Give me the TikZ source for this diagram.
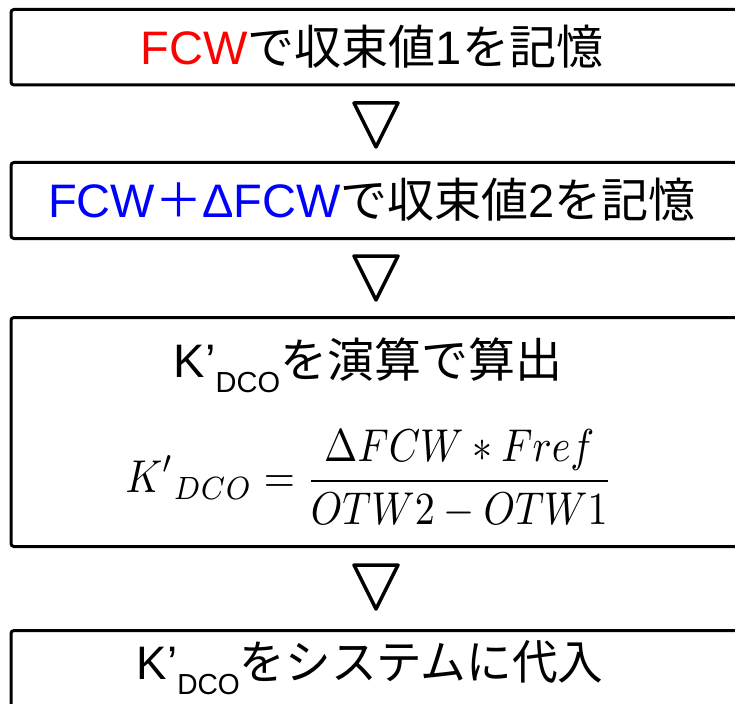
\documentclass[tikz,border=0pt]{standalone}
\usepackage{fontspec}
\usepackage{graphicx}
\setmainfont{Liberation Sans}
\newfontfamily\jp{Noto Sans CJK JP}
\newcommand\J[1]{{\jp #1}}
\newcommand\Kdco{K’\raisebox{-15pt}{\fontsize{29}{30}\selectfont DCO}}
\begin{document}
\begin{tikzpicture}[x=1pt,y=-1pt,
  box/.style={draw, line width=3pt, rounded corners=3pt, minimum width=727pt, inner sep=0pt},
  tri/.style={draw, line width=3.5pt, line join=round},
  lbl/.style={font=\fontsize{47}{56}\selectfont, inner sep=0pt}]
\useasboundingbox (0,0) rectangle (735,703);
\clip (0,0) rectangle (735,703);
% boxes
\node[box, minimum height=75.5pt] (b1) at (374.5,47.25) {};
\node[box, minimum height=76pt] (b2) at (374.5,200.5) {};
\node[box, minimum height=229pt] (b3) at (374.5,432) {};
\node[box, minimum height=85pt] (b4) at (374.5,673) {};
% texts
\node[lbl] (l1) at (372,47) {\textcolor{red}{FCW}\J{で収束値}1\J{を記憶}};
\node[lbl] (l2) at (372,200) {\textcolor{blue}{FCW\J{＋}ΔFCW}\J{で収束値}2\J{を記憶}};
\node[lbl] (l3) at (368,365) {\Kdco\J{を演算で算出}};
\node[xscale=4.0, yscale=4.6, inner sep=0pt] (f) at (369,479) {$\displaystyle {K'}_{DCO} = \frac{\Delta FCW * Fref}{OTW2 - OTW1}$};
\node[lbl, xscale=0.97] (l4) at (370,668) {\Kdco\J{をシステムに代入}};
% triangles
\coordinate (t1) at (376,125);
\coordinate (t2) at (376,278);
\coordinate (t3) at (376,587);
\foreach \t in {t1,t2,t3}
  \draw[tri, shift={(\t)}] (-22,-22) -- (22,-22) -- (0,22) -- cycle;
\end{tikzpicture}
\end{document}
